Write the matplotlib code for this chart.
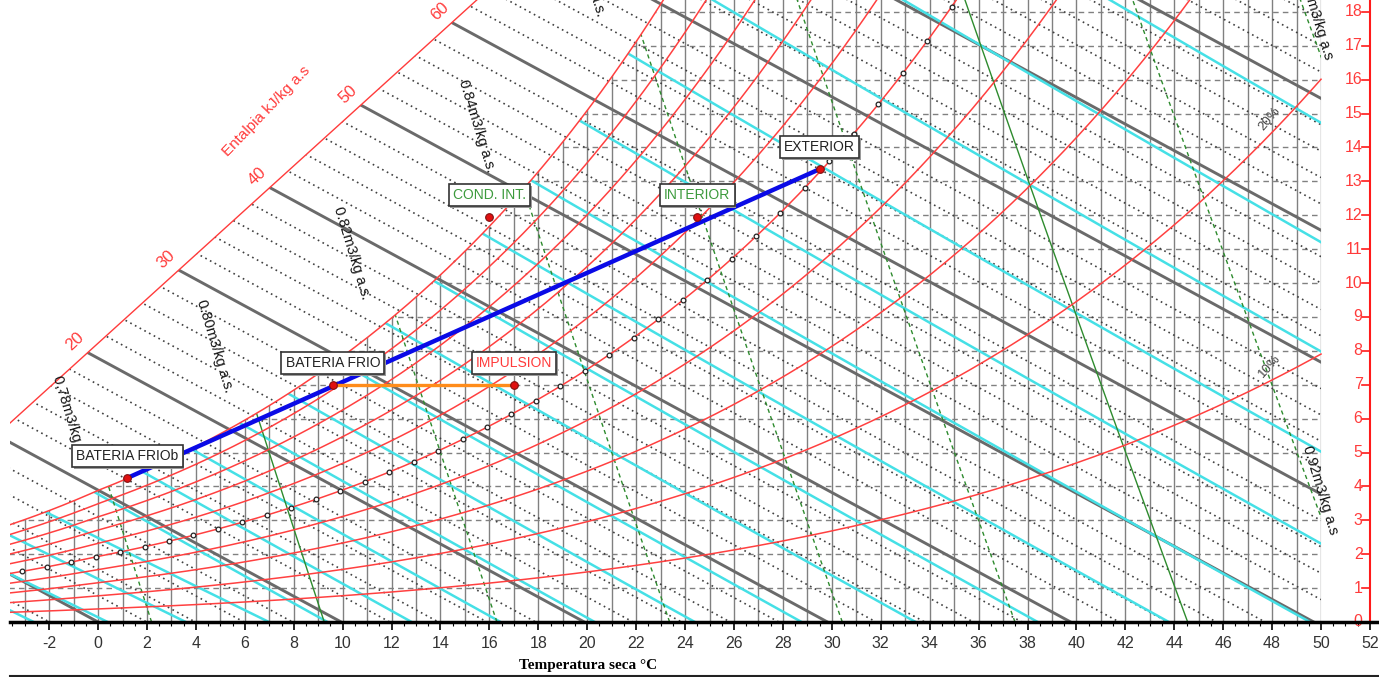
import numpy as np
import matplotlib.pyplot as plt
from matplotlib.patches import Polygon
from matplotlib.lines import Line2D

plt.rcParams['font.family'] = ['Liberation Sans', 'DejaVu Sans']
plt.rcParams['axes.unicode_minus'] = False

# chart constants
P_SAT = 98.5        # kPa, pressure for saturation / RH curves
P_STD = 101.325     # kPa, pressure for wet bulb and specific volume lines
LATENT = 2.57       # kJ per g of vapour used for the enthalpy lines
T_MIN, T_MAX, T_AXIS = -3.6, 50.0, 52.0
X_RIGHT = 52.37
W_MAX = 18.35

# state points: dry bulb (°C), humidity ratio (g/kg)
point_names = ['EXTERIOR', 'INTERIOR', 'COND. INT.', 'BATERIA FRIO', 'IMPULSION', 'BATERIA FRIOb']
point_t = [29.5, 24.5, 16.0, 9.6, 17.0, 1.2]
point_w = [13.36, 11.95, 11.95, 6.99, 6.99, 4.25]
point_text_colors = ['#222222', '#3c9a3c', '#3c9a3c', '#222222', '#ff3b3b', '#222222']

rh_levels = [10, 20, 30, 40, 50, 60, 70, 80, 90, 100]
enthalpy_levels = np.arange(-4, 100, 2)
enthalpy_tick_values = [20, 30, 40, 50, 60]
wetbulb_levels = np.arange(-10, 32, 2)
volume_levels = [0.78, 0.80, 0.82, 0.84, 0.86, 0.88, 0.90, 0.92, 0.94]
volume_solid = [0.80, 0.90]
volume_label_text = ['0.78m3/kg a.s.', '0.80m3/kg a.s.', '0.82m3/kg a.s.', '0.84m3/kg a.s.',
                     '0.86m3/kg a.s.', '0.92m3/kg a.s', '0.94m3/kg a.s']
volume_label_t = [-1.7, 4.2, 9.8, 14.9, 19.4, 49.4, 49.2]
volume_label_w = [7.25, 9.5, 12.25, 16.0, 20.6, 5.2, 19.2]
x_ticks = np.arange(-2, 53, 2)
y_ticks = np.arange(0, 19)

# straight enthalpy scale line  w = SC_W0 + SC_SLOPE * (t - T_MIN)
SC_W0, SC_SLOPE = 5.87, 0.654


def pws(t):
    t = np.asarray(t, float)
    water = 0.61094 * np.exp(17.625 * t / (t + 243.04))
    ice = 0.61115 * np.exp(22.452 * t / (272.55 + t))
    return np.where(t >= 0, water, ice)


def w_rh(t, phi, p=P_SAT):
    pw = phi * pws(t)
    return 622.0 * pw / (p - pw)


def w_wetbulb(t, twb):
    ws = w_rh(twb, 1.0, P_STD) / 1000.0
    if twb >= 0:
        w = ((2501 - 2.326 * twb) * ws - 1.006 * (t - twb)) / (2501 + 1.86 * t - 4.186 * twb)
    else:
        w = ((2830 - 0.24 * twb) * ws - 1.006 * (t - twb)) / (2830 + 1.86 * t - 2.1 * twb)
    return w * 1000.0


def t_volume(v, w):
    return v * P_STD / (0.287042 * (1 + 1.6078 * w / 1000.0)) - 273.15


fig = plt.figure(figsize=(13.79, 6.77), dpi=100)
ax = fig.add_axes([10 / 1379, 55 / 677, 1369 / 1379, 622 / 677])
ax.set_xlim(T_MIN, X_RIGHT)
ax.set_ylim(0, W_MAX)

# clip regions: under the saturation curve, and right of the enthalpy scale
st = np.linspace(T_MIN - 1, 30, 300)
sat_clip = Polygon(np.vstack([np.column_stack([st, w_rh(st, 1.0)]),
                              [[T_MAX, 40], [T_MAX, -1], [T_MIN - 1, -1]]]),
                   closed=True, transform=ax.transData)
h_clip = Polygon([[T_MIN - 1, SC_W0 - SC_SLOPE], [T_MIN + 25, SC_W0 + 25 * SC_SLOPE],
                  [T_MAX, 40], [T_MAX, -1], [T_MIN - 1, -1]],
                 closed=True, transform=ax.transData)

# dry bulb grid and humidity grid
vl = ax.vlines(np.arange(-3, 51), 0, 30, color='#808080', lw=1.0, zorder=1)
vl.set_clip_path(sat_clip)
hl = ax.hlines(y_ticks[1:], T_MIN - 1, T_MAX, color='#808080', lw=1.0,
               linestyles=(0, (4, 3)), zorder=1)
hl.set_clip_path(sat_clip)

# enthalpy lines
tt = np.linspace(T_MIN - 1, T_MAX, 50)
for h in enthalpy_levels:
    ww = (h - 1.006 * tt) / LATENT
    if h % 10 == 0:
        ln, = ax.plot(tt, ww, color='#6a6a6a', lw=2.1, zorder=2.5)
    else:
        ln, = ax.plot(tt, ww, color='#404040', lw=1.2, ls=(0, (1, 2.2)), zorder=2)
    ln.set_clip_path(h_clip)

# enthalpy scale line and its labels
ts = np.array([T_MIN - 1, T_MIN + 25])
ax.plot(ts, SC_W0 + SC_SLOPE * (ts - T_MIN), color='#ff3b3b', lw=1.0, zorder=4)
for h in enthalpy_tick_values:
    t0 = (h - LATENT * SC_W0 + LATENT * SC_SLOPE * T_MIN) / (1.006 + LATENT * SC_SLOPE)
    w0 = SC_W0 + SC_SLOPE * (t0 - T_MIN)
    ax.annotate(str(h), (t0, w0), xytext=(-9, 8), textcoords='offset points',
                ha='center', va='center', rotation=43, color='#ff3b3b',
                fontsize=12, annotation_clip=False, zorder=5)
ax.text(6.87, 15.07, 'Entalpia kJ/kg a.s', rotation=46, color='#ff3b3b',
        fontsize=11, ha='center', va='center', zorder=5)

# wet bulb lines (extended left, cut at the saturation curve)
for twb in wetbulb_levels:
    tw = np.linspace(twb - 3, T_MAX, 120)
    ln, = ax.plot(tw, w_wetbulb(tw, twb), color='#45e0e6', lw=1.8, zorder=3)
    ln.set_clip_path(sat_clip)

# specific volume lines
wv = np.linspace(0, 25, 60)
for v in volume_levels:
    if v in volume_solid:
        ln, = ax.plot(t_volume(v, wv), wv, color='#2e8b2e', lw=1.0, zorder=3)
    else:
        ln, = ax.plot(t_volume(v, wv), wv, color='#2e8b2e', lw=1.0,
                      ls=(0, (3, 2.5)), zorder=3)
    ln.set_clip_path(sat_clip)
for txt, lt, lw_ in zip(volume_label_text, volume_label_t, volume_label_w):
    ax.text(lt, lw_, txt, rotation=-73, rotation_mode='anchor', ha='left', va='center',
            fontsize=10.5, color='#111111', clip_on=False, zorder=5)

# relative humidity curves
tr = np.linspace(T_MIN, T_MAX, 400)
for rh in rh_levels:
    ax.plot(tr, w_rh(tr, rh / 100), color='#ff4040', lw=1.1, zorder=4)
tc = np.arange(-3.1, 40, 1.0)
wc = w_rh(tc, 0.5)
ax.plot(tc[wc < W_MAX - 0.1], wc[wc < W_MAX - 0.1], ls='none', marker='o', ms=3.4,
        mfc='white', mec='#222222', mew=0.9, zorder=4.5)
for rh, t_lab, rot in [(20, 48.0, 50), (10, 48.0, 48)]:
    ax.annotate(f'{rh}%', (t_lab, w_rh(t_lab, rh / 100)), xytext=(-2, 10),
                textcoords='offset points', rotation=rot, fontsize=9.5,
                color='#444444', ha='center', va='center', zorder=5)

# process lines
ax.plot([point_t[5], point_t[0]], [point_w[5], point_w[0]], color='#0a0ae6', lw=3.2, zorder=6)
ax.plot([point_t[3], point_t[4]], [point_w[3], point_w[4]], color='#ff8c1a', lw=2.4, zorder=6)
ax.plot(point_t, point_w, ls='none', marker='o', ms=5.5, mfc='#e01010', mec='#801010',
        mew=0.8, zorder=7)
for name, t0, w0, col in zip(point_names, point_t, point_w, point_text_colors):
    ax.annotate(name, (t0, w0), xytext=(1.2, 14.5), textcoords='offset points',
                ha='center', va='center', fontsize=10, color='none', zorder=7.5,
                bbox=dict(boxstyle='square,pad=0.3', fc='#9a9a9a', ec='none'))
    ax.annotate(name, (t0, w0), xytext=(0, 16), textcoords='offset points',
                ha='center', va='center', fontsize=10, color=col, zorder=8,
                bbox=dict(boxstyle='square,pad=0.3', fc='white', ec='#333333', lw=1.2))

# right humidity axis
ax.plot([T_AXIS, T_AXIS], [0, W_MAX], color='#ff1a1a', lw=1.5, zorder=5, clip_on=False)
for y in y_ticks:
    ax.plot([T_AXIS - 0.33, T_AXIS], [y, y], color='#ff1a1a', lw=1.2, zorder=5)
    ax.text(T_AXIS - 0.3, y, str(y), color='#ff3b3b', fontsize=11.5, ha='right',
            va='center', zorder=5)

# bottom temperature axis
for side in ['left', 'top', 'right']:
    ax.spines[side].set_visible(False)
ax.spines['bottom'].set_linewidth(2.5)
ax.spines['bottom'].set_zorder(6)
ax.set_yticks([])
ax.set_xticks(x_ticks)
ax.set_xticks(np.arange(-3.5, 52.5, 0.5), minor=True)
ax.tick_params(axis='x', which='major', length=6, width=1.2, pad=4,
               labelsize=11.5, labelcolor='#333333')
ax.tick_params(axis='x', which='minor', length=3, width=0.8)
fig.text(588 / 1379, 1 - 665 / 677, 'Temperatura seca °C', fontsize=11,
         fontweight='bold', family='Liberation Serif', ha='center', va='center')
fig.add_artist(Line2D([10 / 1379, 1], [1.5 / 677, 1.5 / 677], color='#222222', lw=1.5))

fig.savefig('out.png', dpi=100, facecolor='white')
